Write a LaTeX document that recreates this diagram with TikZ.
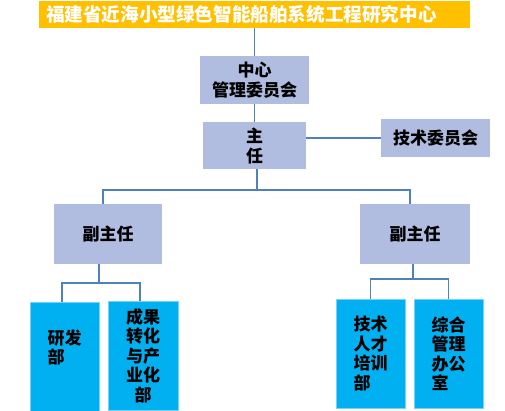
\documentclass[tikz,border=0pt]{standalone}
\usepackage{fontspec}
\newfontfamily\cjk{Noto Sans CJK SC}
\usetikzlibrary{positioning}
\definecolor{orgGold}{HTML}{FFC000}
\definecolor{orgLavender}{HTML}{B0BCE0}
\definecolor{orgCyan}{HTML}{00B0F0}
\definecolor{orgLine}{HTML}{4F81BD}

\begin{document}
\begin{tikzpicture}[x=1pt, y=-1pt,
  banner/.style={fill=orgGold, minimum width=431pt, minimum height=27pt,
                 inner xsep=7pt, inner ysep=0pt, text=white,
                 text width=417pt, align=left,
                 font=\cjk\bfseries\fontsize{18.6}{20}\selectfont},
  board/.style={fill=orgLavender, inner sep=0pt, align=center,
                font=\cjk\bfseries\fontsize{17}{20}\selectfont},
  dept/.style={fill=orgCyan, draw=orgCyan!55!white, line width=0.6pt,
               minimum width=69pt, minimum height=109pt, inner sep=0pt,
               font=\cjk\bfseries\fontsize{17}{19.5}\selectfont},
  link/.style={draw=orgLine, line width=1.5pt},
]
  \useasboundingbox (0,0) rectangle (505,411);

  % Centre and its boards.
  \node[banner] (title) at (254.5,14.5) {福建省近海小型绿色智能船舶系统工程研究中心};
  \node[board, minimum width=109pt, minimum height=48pt] (board) at (254.5,80)
       {中心\\管理委员会};
  \node[board, minimum width=103pt, minimum height=47pt] (director) at (254.5,145.5)
       {主\\任};
  \node[board, minimum width=109pt, minimum height=38pt] (techboard) at (435.5,138)
       {技术委员会};
  \draw[link] (title) -- (board);
  \draw[link] (board) -- (director);
  \draw[link] (techboard.west -| director.east) -- (techboard.west);

  % Deputy directors.
  \node[board, minimum width=108pt, minimum height=60pt] (deputyL) at (108,234) {副主任};
  \node[board, minimum width=110pt, minimum height=60pt] (deputyR) at (415,234) {副主任};
  \coordinate (bus) at (257,190);
  \draw[link] (director.south -| bus) -- (bus);
  \draw[link] ([xshift=-5pt]deputyL.north) |- (bus) -| ([xshift=-5pt]deputyR.north);

  % Departments under the left deputy.
  \node[dept, align=left] (research) at (64.5,356.5) {研发\\部\\\mbox{}};
  \node[dept, align=center, minimum width=70pt] (transfer) at (143,355.5)
       {成果\\转化\\与产\\业化\\部};
  \coordinate (busL) at (99,283);
  \draw[link] (deputyL.south -| busL) -- (busL);
  \draw[link] ([xshift=-2.5pt]research.north) |- (busL) -| ([xshift=-3pt]transfer.north);

  % Departments under the right deputy.
  \node[dept, align=left] (training) at (370.5,353.5) {技术\\人才\\培训\\部};
  \node[dept, align=left] (office) at (448.5,353.5) {综合\\管理\\办公\\室};
  \coordinate (busR) at (413,279);
  \draw[link] (deputyR.south -| busR) -- (busR);
  \draw[link] (training.north) |- (busR) -| (office.north);
\end{tikzpicture}
\end{document}
